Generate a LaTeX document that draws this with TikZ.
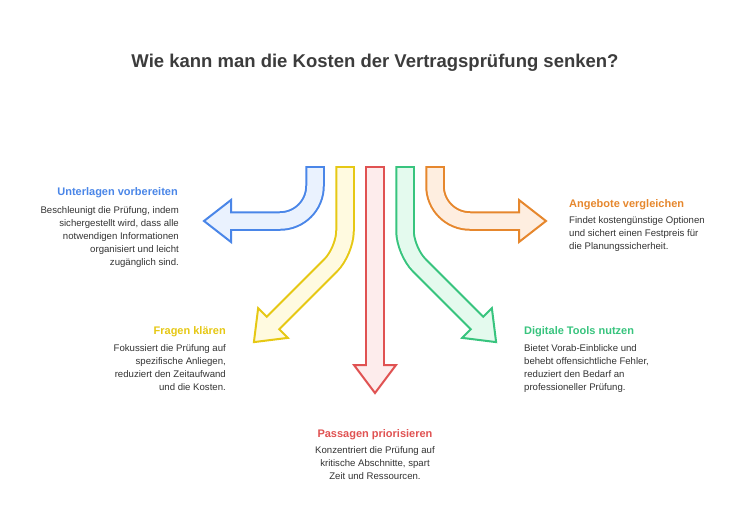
\documentclass[tikz,border=0pt]{standalone}
\usepackage{fontspec}
\setmainfont{Liberation Sans}
\usetikzlibrary{calc}

\definecolor{bluestroke}{HTML}{4A86E8}
\definecolor{bluefill}{HTML}{EAF2FE}
\definecolor{yellowstroke}{HTML}{E6C814}
\definecolor{yellowfill}{HTML}{FFFAE0}
\definecolor{redstroke}{HTML}{E05252}
\definecolor{redfill}{HTML}{FDECEC}
\definecolor{greenstroke}{HTML}{38C47E}
\definecolor{greenfill}{HTML}{E4FAEE}
\definecolor{orangestroke}{HTML}{E6872D}
\definecolor{orangefill}{HTML}{FEEEE0}
\definecolor{titlegray}{HTML}{3C3C3C}
\definecolor{bodygray}{HTML}{333333}

\begin{document}
\begin{tikzpicture}[
  x=1pt, y=-1pt,
  outline/.style={line width=19.5pt, draw=#1},
  core/.style={line width=15.5pt, draw=#1},
  tip/.style 2 args={draw=#1, fill=#2, line width=2pt},
  heading/.style={font=\fontsize{11}{13}\selectfont\bfseries, text=#1, inner sep=0pt},
  body/.style={font=\fontsize{9.6}{13}\selectfont, text=bodygray, inner sep=0pt},
]
\useasboundingbox[fill=white] (0,0) rectangle (750,528);

\node[font=\fontsize{18.5}{22}\selectfont\bfseries, text=titlegray, inner sep=0pt, anchor=base] (title) at (375,67) {Wie kann man die Kosten der Vertragsprüfung senken?};

% arrow ends
\coordinate (prepA) at (315,166);
\coordinate (prepB) at (231,221);
\coordinate (askA)  at (345,166);
\coordinate (askB)  at (273,323);
\coordinate (prioA) at (375,166);
\coordinate (prioB) at (375,365);
\coordinate (toolA) at (405,166);
\coordinate (toolB) at (477,323);
\coordinate (offerA) at (435,166);
\coordinate (offerB) at (519,221);

% blue: Unterlagen vorbereiten
\draw[outline=bluestroke, rounded corners=35pt] (prepA) -- (prepA |- prepB) -- (prepB);
\draw[tip={bluestroke}{bluefill}] (231,200) -- (204,221) -- (231,242) -- cycle;
\draw[core=bluefill, rounded corners=35pt] ($(prepA)+(0,2)$) -- (prepA |- prepB) -- ($(prepB)+(-2,0)$);

% yellow: Fragen klären
\draw[outline=yellowstroke, rounded corners=20pt] (askA) -- (345,251) -- (askB);
\draw[tip={yellowstroke}{yellowfill}] (258.15,308.15) -- (253.9,342.1) -- (287.85,337.85) -- cycle;
\draw[core=yellowfill, rounded corners=20pt] ($(askA)+(0,2)$) -- (345,251) -- ($(askB)+(-1.5,1.5)$);

% red: Passagen priorisieren
\draw[outline=redstroke] (prioA) -- (prioB);
\draw[tip={redstroke}{redfill}] (354,365) -- (375,393) -- (396,365) -- cycle;
\draw[core=redfill] ($(prioA)+(0,2)$) -- ($(prioB)+(0,2)$);

% green: Digitale Tools nutzen
\draw[outline=greenstroke, rounded corners=20pt] (toolA) -- (405,251) -- (toolB);
\draw[tip={greenstroke}{greenfill}] (491.85,308.15) -- (496.1,342.1) -- (462.15,337.85) -- cycle;
\draw[core=greenfill, rounded corners=20pt] ($(toolA)+(0,2)$) -- (405,251) -- ($(toolB)+(1.5,1.5)$);

% orange: Angebote vergleichen
\draw[outline=orangestroke, rounded corners=35pt] (offerA) -- (offerA |- offerB) -- (offerB);
\draw[tip={orangestroke}{orangefill}] (519,200) -- (546,221) -- (519,242) -- cycle;
\draw[core=orangefill, rounded corners=35pt] ($(offerA)+(0,2)$) -- (offerA |- offerB) -- ($(offerB)+(2,0)$);

% texts
\node[heading=bluestroke, anchor=base east] (prep) at (178,195) {Unterlagen vorbereiten};
\node[body, align=right, anchor=north east] (prepbody) at (179,206)
  {Beschleunigt die Prüfung, indem\\sichergestellt wird, dass alle\\notwendigen Informationen\\organisiert und leicht\\zugänglich sind.};

\node[heading=orangestroke, anchor=base west] (offer) at (569,207) {Angebote vergleichen};
\node[body, align=left, anchor=north west] (offerbody) at (569,216)
  {Findet kostengünstige Optionen\\und sichert einen Festpreis für\\die Planungssicherheit.};

\node[heading=yellowstroke, anchor=base east] (ask) at (226,334) {Fragen klären};
\node[body, align=right, anchor=north east] (askbody) at (226,344)
  {Fokussiert die Prüfung auf\\spezifische Anliegen,\\reduziert den Zeitaufwand\\und die Kosten.};

\node[heading=greenstroke, anchor=base west] (tool) at (524,334) {Digitale Tools nutzen};
\node[body, align=left, anchor=north west] (toolbody) at (524,344)
  {Bietet Vorab-Einblicke und\\behebt offensichtliche Fehler,\\reduziert den Bedarf an\\professioneller Prüfung.};

\node[heading=redstroke, anchor=base] (prio) at (375,437) {Passagen priorisieren};
\node[body, align=center, anchor=north] (priobody) at (375,446)
  {Konzentriert die Prüfung auf\\kritische Abschnitte, spart\\Zeit und Ressourcen.};
\end{tikzpicture}
\end{document}
